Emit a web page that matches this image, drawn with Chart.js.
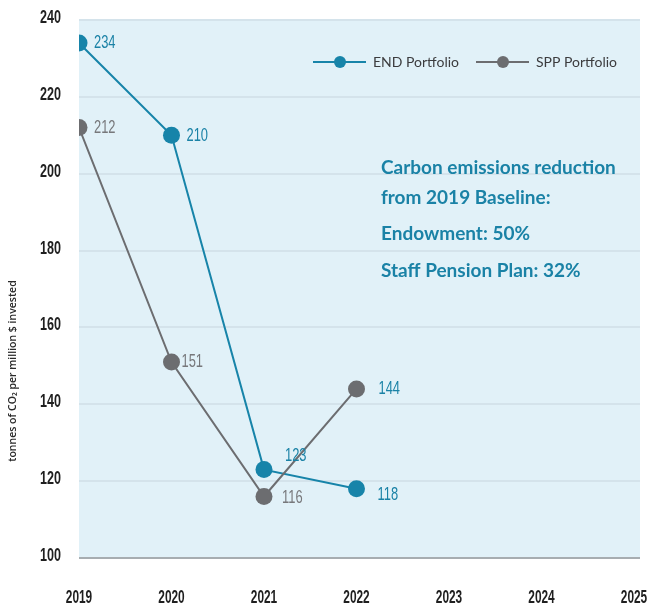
<!DOCTYPE html>
<html>
<head>
<meta charset="utf-8">
<script src="https://cdn.jsdelivr.net/npm/chart.js@4.4.0/dist/chart.umd.min.js"></script>
<style>
  html, body { margin: 0; padding: 0; background: #ffffff; }
</style>
</head>
<body>
<canvas id="chart" width="649" height="607"></canvas>
<script>
// Data
const years = [2019, 2020, 2021, 2022, 2023, 2024, 2025];
const dataYears = [2019, 2020, 2021, 2022];
const endValues = [234, 210, 123, 118];
const sppValues = [212, 151, 116, 144];
const yTicks = [100, 120, 140, 160, 180, 200, 220, 240];
const seriesNames = ['END Portfolio', 'SPP Portfolio'];
const noteLines = [
  'Carbon emissions reduction',
  'from 2019 Baseline:',
  'Endowment: 50%',
  'Staff Pension Plan: 32%'
];
const axisTitle = 'tonnes of CO\u2082 per million $ invested';

// Styles
const endColour = '#1784a9';
const sppColour = '#6c6d70';
const tealText = '#1a82a6';
const narrowFont = '"Liberation Sans", Arial, sans-serif';

// label offsets per dataset / point [dx, dy]
const labelOffsets = [
  [[15, 0], [15, 0], [21, -14], [21, 6]],
  [[15, 0], [10, 0], [18, 1], [22, 0]]
];
const labelColours = [
  [tealText, tealText, tealText, tealText],
  ['#77787b', '#77787b', '#77787b', tealText]
];

const toPoints = (vals) => vals.map((v, i) => ({ x: dataYears[i], y: v }));

// draw text squeezed horizontally (condensed look)
function squeezedText(ctx, text, x, y, squeeze, align) {
  ctx.save();
  ctx.translate(x, y);
  ctx.scale(squeeze, 1);
  ctx.textAlign = align;
  ctx.fillText(text, 0, 0);
  ctx.restore();
}

const backgroundPlugin = {
  id: 'plotBackground',
  beforeDraw(chart) {
    const { ctx, chartArea } = chart;
    ctx.save();
    ctx.fillStyle = '#e1f1f8';
    ctx.fillRect(chartArea.left, chartArea.top, chartArea.right - chartArea.left, chartArea.bottom - chartArea.top);
    ctx.restore();
  }
};

const tickLabels = {
  id: 'tickLabels',
  afterDraw(chart) {
    const ctx = chart.ctx;
    const xs = chart.scales.x, ys = chart.scales.y;
    ctx.save();
    ctx.fillStyle = '#1f1f1f';
    ctx.font = 'bold 18px ' + narrowFont;
    ctx.textBaseline = 'middle';
    ys.ticks.forEach(t => {
      squeezedText(ctx, String(t.value), 61, ys.getPixelForValue(t.value) - 2, 0.7, 'right');
    });
    xs.ticks.forEach(t => {
      squeezedText(ctx, String(t.value), xs.getPixelForValue(t.value), 598, 0.66, 'center');
    });
    ctx.restore();
  }
};

const valueLabels = {
  id: 'valueLabels',
  afterDatasetsDraw(chart) {
    const ctx = chart.ctx;
    ctx.save();
    ctx.font = '19px ' + narrowFont;
    ctx.textBaseline = 'middle';
    chart.data.datasets.forEach((ds, di) => {
      const meta = chart.getDatasetMeta(di);
      meta.data.forEach((pt, i) => {
        const off = labelOffsets[di][i];
        ctx.fillStyle = labelColours[di][i];
        squeezedText(ctx, String(ds.data[i].y), pt.x + off[0], pt.y + off[1], 0.68, 'left');
      });
    });
    ctx.restore();
  }
};

const extras = {
  id: 'extras',
  afterDraw(chart) {
    const ctx = chart.ctx;
    ctx.save();

    // legend
    const legendItems = [
      { x: 313, colour: endColour, text: seriesNames[0] },
      { x: 476, colour: sppColour, text: seriesNames[1] }
    ];
    legendItems.forEach(item => {
      ctx.strokeStyle = item.colour;
      ctx.lineWidth = 2;
      ctx.beginPath();
      ctx.moveTo(item.x, 62);
      ctx.lineTo(item.x + 53, 62);
      ctx.stroke();
      ctx.fillStyle = item.colour;
      ctx.beginPath();
      ctx.arc(item.x + 27, 62, 6, 0, Math.PI * 2);
      ctx.fill();
      ctx.fillStyle = '#3c3c3e';
      ctx.font = '14px Lato, "Open Sans", sans-serif';
      ctx.textAlign = 'left';
      ctx.textBaseline = 'middle';
      ctx.fillText(item.text, item.x + 60, 62);
    });

    // note
    ctx.fillStyle = tealText;
    ctx.font = 'bold 19px Lato, "Open Sans", sans-serif';
    const noteY = [168, 198, 234, 271];
    noteLines.forEach((line, i) => ctx.fillText(line, 381, noteY[i]));

    // y axis title
    ctx.translate(13, 371);
    ctx.rotate(-Math.PI / 2);
    ctx.textAlign = 'center';
    ctx.fillStyle = '#2a2a2a';
    ctx.font = '600 10.5px "Open Sans", sans-serif';
    ctx.fillText(axisTitle, 0, 0);
    ctx.restore();
  }
};

new Chart(document.getElementById('chart'), {
  type: 'line',
  data: {
    datasets: [
      {
        label: seriesNames[0],
        data: toPoints(endValues),
        borderColor: endColour,
        backgroundColor: endColour,
        borderWidth: 2,
        pointRadius: 8.5,
        pointBorderWidth: 0,
        pointBackgroundColor: endColour,
        order: 1
      },
      {
        label: seriesNames[1],
        data: toPoints(sppValues),
        borderColor: sppColour,
        backgroundColor: sppColour,
        borderWidth: 2,
        pointRadius: 8.5,
        pointBorderWidth: 0,
        pointBackgroundColor: sppColour,
        order: 0
      }
    ]
  },
  options: {
    responsive: false,
    animation: false,
    devicePixelRatio: 1,
    layout: { padding: { top: 20, right: 9, left: 0, bottom: 0 } },
    scales: {
      x: {
        type: 'linear',
        min: 2019,
        max: 2025.065,
        afterBuildTicks: (scale) => { scale.ticks = years.map(v => ({ value: v })); },
        afterFit: (scale) => { scale.height = 49; scale.paddingLeft = 0; scale.paddingRight = 0; },
        grid: { display: false, drawTicks: false },
        border: { display: false },
        ticks: { display: false }
      },
      y: {
        min: 100,
        max: 240,
        afterBuildTicks: (scale) => { scale.ticks = yTicks.map(v => ({ value: v })); },
        afterFit: (scale) => { scale.width = 79; scale.paddingTop = 0; scale.paddingBottom = 0; },
        grid: {
          drawTicks: false,
          lineWidth: 2,
          color: (c) => c.tick && c.tick.value === 100 ? '#a7adb1' : '#d4e3eb'
        },
        border: { display: false },
        ticks: { display: false }
      }
    },
    plugins: {
      legend: { display: false },
      tooltip: { enabled: false }
    }
  },
  plugins: [backgroundPlugin, valueLabels, tickLabels, extras]
});
</script>
</body>
</html>
